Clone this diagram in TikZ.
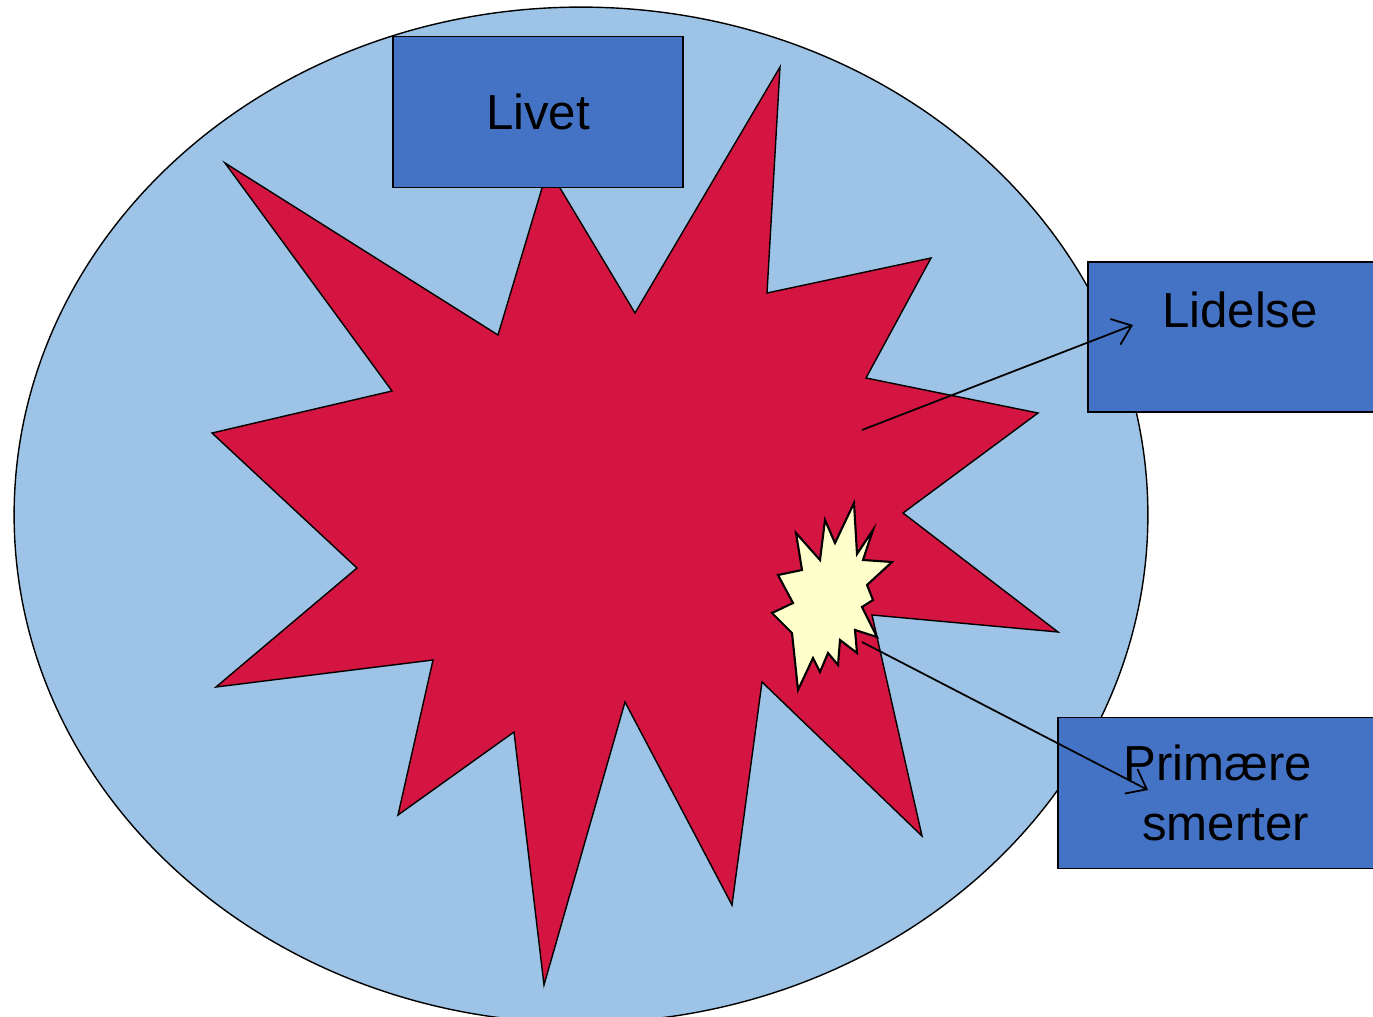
\documentclass[tikz,border=0pt]{standalone}
\usepackage{fontspec}
\setmainfont{Liberation Sans}
\usepackage{xcolor}
\usetikzlibrary{arrows.meta}

\definecolor{lifeblue}{RGB}{157,195,230}
\definecolor{boxblue}{RGB}{68,114,196}
\definecolor{painred}{RGB}{212,21,66}
\definecolor{paleyellow}{RGB}{255,255,204}

\tikzset{
  box/.style={draw=black, fill=boxblue, rectangle, inner sep=0pt,
    font=\fontsize{28}{34.5}\selectfont, align=center},
  pointer/.style={-{Straight Barb[length=0.35cm, width=0.55cm]}, line width=1pt}
}

\begin{document}
\begin{tikzpicture}[x=0.02cm, y=-0.02cm, line width=0.8pt]
  \useasboundingbox (0,0) rectangle (1373,1017);
  \clip (0,0) rectangle (1373,1017);

  % Life (ellipse)
  \draw[fill=lifeblue] (581,515) ellipse [x radius=11.34cm, y radius=10.16cm];

  % Suffering (big red star)
  \draw[fill=painred]
    (225,163) -- (498,335) -- (548,168) -- (635,313) -- (780,67) -- (767,293)
    -- (931,258) -- (866,378) -- (1038,413) -- (903,513) -- (1058,632)
    -- (872,615) -- (922,836) -- (762,682) -- (732,905) -- (625,702)
    -- (544,985) -- (514,732) -- (398,815) -- (433,660) -- (216,687)
    -- (357,568) -- (212,433) -- (392,391) -- cycle;

  % Primary pain (small yellow star)
  \draw[fill=paleyellow, line width=1.2pt]
    (854,503) -- (857,554) -- (873,530) -- (863,560) -- (892,562) -- (867,585)
    -- (873,600) -- (862,607) -- (877,637) -- (855,630) -- (857,653)
    -- (840,640) -- (838,665) -- (828,653) -- (820,672) -- (813,658)
    -- (798,690) -- (792,633) -- (772,613) -- (793,603) -- (778,575)
    -- (802,570) -- (796,533) -- (820,560) -- (825,520) -- (835,543) -- cycle;

  % Boxes
  \node[box, minimum width=5.8cm, minimum height=3.02cm] (livet) at (538,112) {Livet};
  \node[box, minimum width=6.08cm, minimum height=3cm, text height=0.8cm, text depth=1.2cm]
    (lidelse) at (1240,337) {Lidelse};
  \node[box, minimum width=6.4cm, minimum height=3.02cm] (primaere) at (1218,793)
    {Primære\\\hspace*{0.3cm}smerter};

  % Arrows
  \coordinate (suffering) at (862,430);
  \coordinate (lidelse tip) at (1133,325);
  \coordinate (primary) at (862,642);
  \coordinate (primaere tip) at (1148,790);
  \draw[pointer] (suffering) -- (lidelse tip);
  \draw[pointer] (primary) -- (primaere tip);
\end{tikzpicture}
\end{document}
